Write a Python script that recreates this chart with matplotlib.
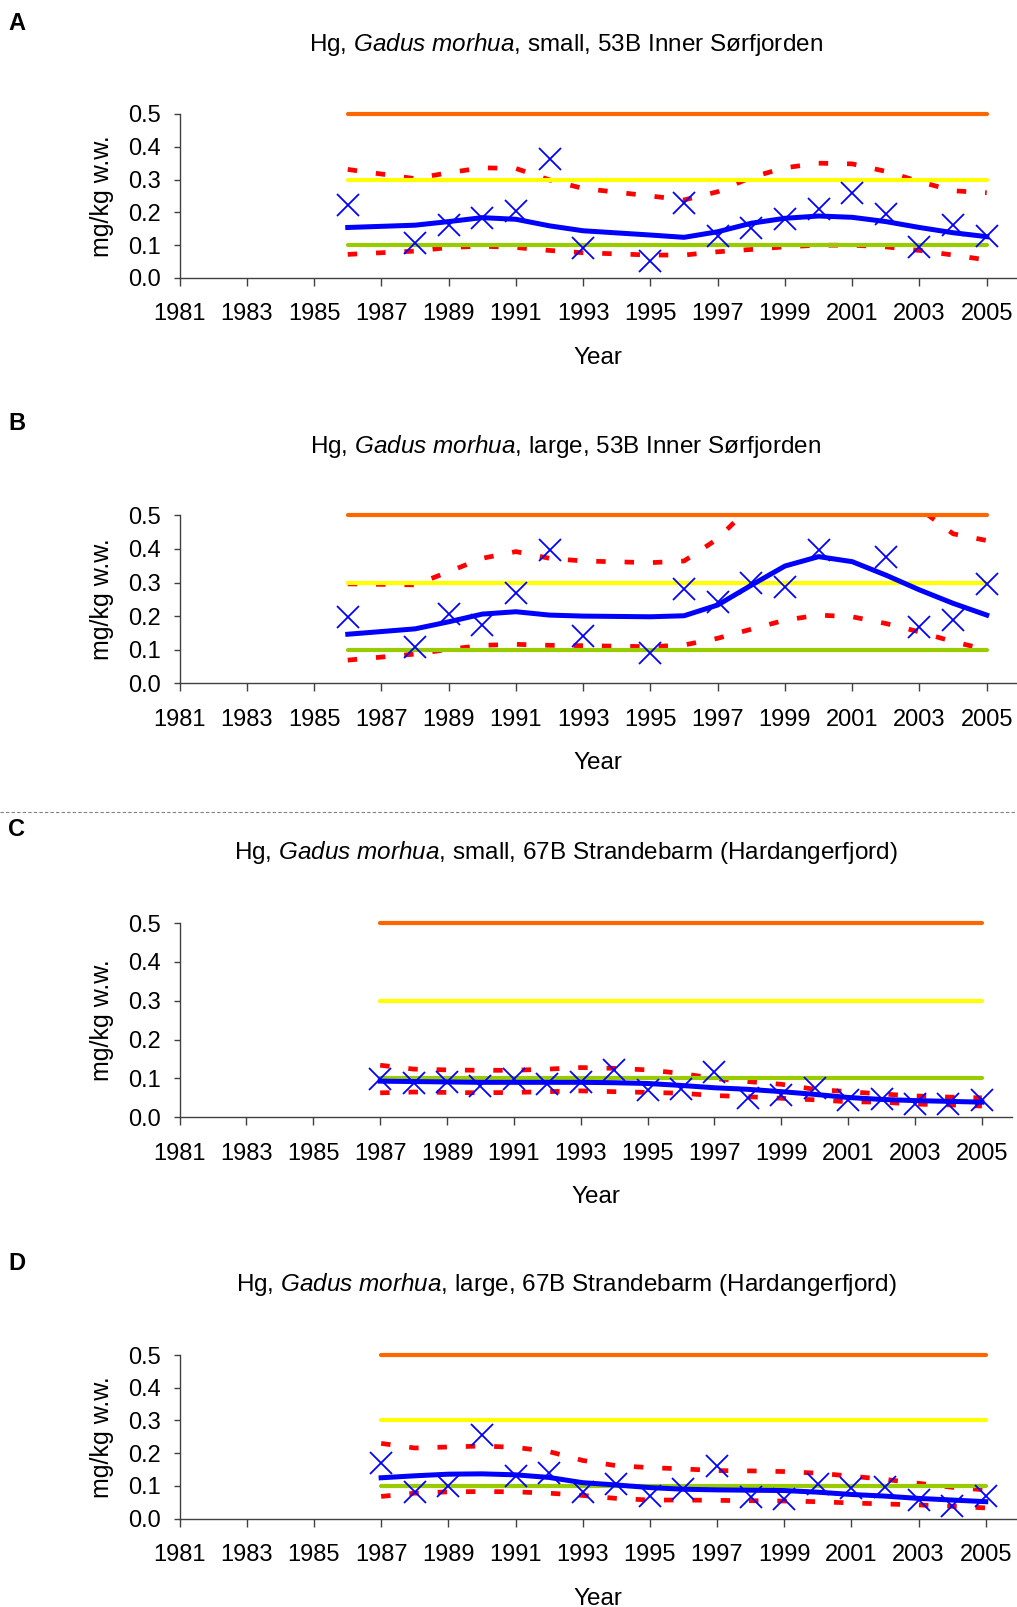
import numpy as np
import matplotlib
matplotlib.use('Agg')
import matplotlib.pyplot as plt

# ---- data ----
years_a = [1986, 1988, 1989, 1990, 1991, 1992, 1993, 1995, 1996, 1997, 1998, 1999, 2000, 2001, 2002, 2003, 2004, 2005]
hg_a = [0.223, 0.106, 0.162, 0.184, 0.205, 0.362, 0.090, 0.053, 0.230, 0.128, 0.151, 0.179, 0.209, 0.258, 0.195, 0.095, 0.162, 0.128]
fit_years_a = years_a
trend_a = [0.154, 0.161, 0.172, 0.184, 0.179, 0.159, 0.144, 0.131, 0.124, 0.141, 0.167, 0.182, 0.189, 0.185, 0.172, 0.154, 0.138, 0.126]
upper_a = [0.331, 0.303, 0.321, 0.336, 0.334, 0.299, 0.273, 0.250, 0.238, 0.263, 0.307, 0.336, 0.350, 0.348, 0.325, 0.294, 0.266, 0.260]
lower_a = [0.072, 0.082, 0.093, 0.097, 0.093, 0.084, 0.077, 0.070, 0.070, 0.080, 0.087, 0.095, 0.100, 0.100, 0.095, 0.084, 0.070, 0.055]

years_b = [1986, 1988, 1989, 1990, 1991, 1992, 1993, 1995, 1996, 1997, 1998, 1999, 2000, 2002, 2003, 2004, 2005]
hg_b = [0.198, 0.107, 0.206, 0.174, 0.270, 0.397, 0.142, 0.091, 0.280, 0.243, 0.298, 0.286, 0.397, 0.377, 0.168, 0.188, 0.295]
fit_years_b = [1986, 1988, 1989, 1990, 1991, 1992, 1993, 1995, 1996, 1997, 1998, 1999, 2000, 2001, 2002, 2003, 2004, 2005]
trend_b = [0.146, 0.162, 0.183, 0.206, 0.213, 0.203, 0.200, 0.198, 0.201, 0.233, 0.292, 0.349, 0.377, 0.362, 0.322, 0.278, 0.238, 0.203]
upper_b = [0.296, 0.293, 0.332, 0.372, 0.392, 0.372, 0.364, 0.359, 0.364, 0.430, 0.530, 0.600, 0.620, 0.610, 0.580, 0.520, 0.445, 0.425]
lower_b = [0.069, 0.087, 0.101, 0.113, 0.116, 0.113, 0.112, 0.109, 0.114, 0.134, 0.161, 0.188, 0.203, 0.198, 0.178, 0.153, 0.124, 0.100]

years_c = list(range(1987, 2006))
hg_c = [0.099, 0.088, 0.090, 0.081, 0.099, 0.086, 0.092, 0.122, 0.071, 0.073, 0.117, 0.049, 0.057, 0.075, 0.045, 0.046, 0.033, 0.033, 0.045]
fit_years_c = years_c
trend_c = [0.093, 0.092, 0.091, 0.090, 0.090, 0.090, 0.090, 0.089, 0.087, 0.082, 0.076, 0.072, 0.066, 0.059, 0.051, 0.046, 0.043, 0.041, 0.039]
upper_c = [0.134, 0.124, 0.122, 0.121, 0.121, 0.124, 0.128, 0.126, 0.122, 0.113, 0.100, 0.092, 0.085, 0.072, 0.066, 0.060, 0.055, 0.052, 0.050]
lower_c = [0.063, 0.065, 0.064, 0.063, 0.064, 0.066, 0.068, 0.066, 0.064, 0.062, 0.056, 0.053, 0.049, 0.045, 0.040, 0.039, 0.034, 0.032, 0.029]

years_d = list(range(1987, 2006))
hg_d = [0.171, 0.083, 0.101, 0.256, 0.130, 0.141, 0.083, 0.106, 0.069, 0.090, 0.161, 0.067, 0.060, 0.106, 0.093, 0.096, 0.057, 0.039, 0.069]
fit_years_d = years_d
trend_d = [0.125, 0.131, 0.136, 0.137, 0.134, 0.126, 0.110, 0.103, 0.095, 0.090, 0.088, 0.087, 0.086, 0.081, 0.074, 0.069, 0.062, 0.057, 0.052]
upper_d = [0.230, 0.216, 0.219, 0.222, 0.218, 0.205, 0.178, 0.162, 0.156, 0.152, 0.147, 0.146, 0.144, 0.139, 0.130, 0.120, 0.108, 0.096, 0.088]
lower_d = [0.068, 0.078, 0.082, 0.083, 0.082, 0.078, 0.071, 0.062, 0.057, 0.057, 0.056, 0.055, 0.054, 0.052, 0.048, 0.045, 0.042, 0.038, 0.033]

letters = ['A', 'B', 'C', 'D']
titles = [r'Hg, $\mathit{Gadus\ morhua}$, small, 53B Inner Sørfjorden',
          r'Hg, $\mathit{Gadus\ morhua}$, large, 53B Inner Sørfjorden',
          r'Hg, $\mathit{Gadus\ morhua}$, small, 67B Strandebarm (Hardangerfjord)',
          r'Hg, $\mathit{Gadus\ morhua}$, large, 67B Strandebarm (Hardangerfjord)']
limits = [0.1, 0.3, 0.5]
limit_colors = ['#99CC00', '#FFFF00', '#FF6600']
xticks = list(range(1981, 2006, 2))
yticks = [0.0, 0.1, 0.2, 0.3, 0.4, 0.5]

panels = [
    (years_a, hg_a, fit_years_a, trend_a, upper_a, lower_a),
    (years_b, hg_b, fit_years_b, trend_b, upper_b, lower_b),
    (years_c, hg_c, fit_years_c, trend_c, upper_c, lower_c),
    (years_d, hg_d, fit_years_d, trend_d, upper_d, lower_d),
]

plt.rcParams['font.family'] = ['Liberation Sans', 'DejaVu Sans']
plt.rcParams['mathtext.fontset'] = 'custom'
plt.rcParams['mathtext.rm'] = 'Liberation Sans'
plt.rcParams['mathtext.it'] = 'Liberation Sans:italic'

W, H = 1017, 1607
fig = plt.figure(figsize=(W / 100, H / 100), dpi=100)

# layout in pixels: (top of 0.5, y of 0.0, right edge of axis)
boxes = [(114, 278, 1017), (515.3, 683.3, 1017), (923, 1117.3, 1012), (1355, 1518.7, 1016)]
title_y = [44, 446, 853, 1284]
letter_y = [24, 424, 829, 1263]
left = 179.6

for i, (yrs, hg, fyrs, trend, up, lo) in enumerate(panels):
    top, bot, right = boxes[i]
    ax = fig.add_axes([left / W, 1 - bot / H, (right - left) / W, (bot - top) / H])

    ax.plot(fyrs, up, color='#FF0000', lw=3.4, ls=(0, (2.0, 4.0)), solid_capstyle='butt', zorder=2)
    ax.plot(fyrs, lo, color='#FF0000', lw=3.4, ls=(0, (2.0, 4.0)), solid_capstyle='butt', zorder=2)
    for v, c in zip(limits, limit_colors):
        ax.plot([yrs[0], 2005], [v, v], color=c, lw=3.0, solid_capstyle='round', zorder=3, clip_on=False)
    ax.plot(fyrs, trend, color='#0000FF', lw=3.6, solid_joinstyle='round', zorder=4)
    ax.plot(yrs, hg, ls='none', marker='x', ms=15.5, mew=1.3, color='#0000FF', zorder=5, clip_on=False)

    ax.set_xlim(1981, 2005.9)
    ax.set_ylim(0, 0.5)
    ax.set_xticks(xticks)
    ax.set_xticklabels([str(x) for x in xticks])
    ax.set_yticks(yticks)
    ax.set_yticklabels(['%.1f' % y for y in yticks])
    ax.tick_params(axis='x', direction='out', length=5.8, width=1, pad=12.5, labelsize=17, color='#404040')
    ax.tick_params(axis='y', direction='out', length=4.3, width=1, pad=9.4, labelsize=17, color='#404040')
    for s in ['top', 'right']:
        ax.spines[s].set_visible(False)
    for s in ['left', 'bottom']:
        ax.spines[s].set_color('#404040')
        ax.spines[s].set_linewidth(1)
    ax.patch.set_alpha(0)

    # texts
    fig.text(8 / W, 1 - letter_y[i] / H, letters[i], fontsize=17, fontweight='bold', ha='left', va='center')
    fig.text(566 / W, 1 - title_y[i] / H, titles[i], fontsize=17.5, ha='center', va='center')
    fig.text(102 / W, 1 - (top + bot) / 2 / H, 'mg/kg w.w.', fontsize=18, rotation=90, ha='center', va='center')
    fig.text((left + right) / 2 / W, 1 - (bot + 80) / H, 'Year', fontsize=17.5, ha='center', va='center')

# dashed separator between the two stations
fig.add_artist(plt.Line2D([0, 1], [1 - 812 / H, 1 - 812 / H], transform=fig.transFigure,
                          color='#808080', lw=0.8, ls=(0, (3, 2))))

fig.savefig('out.png', dpi=100)
